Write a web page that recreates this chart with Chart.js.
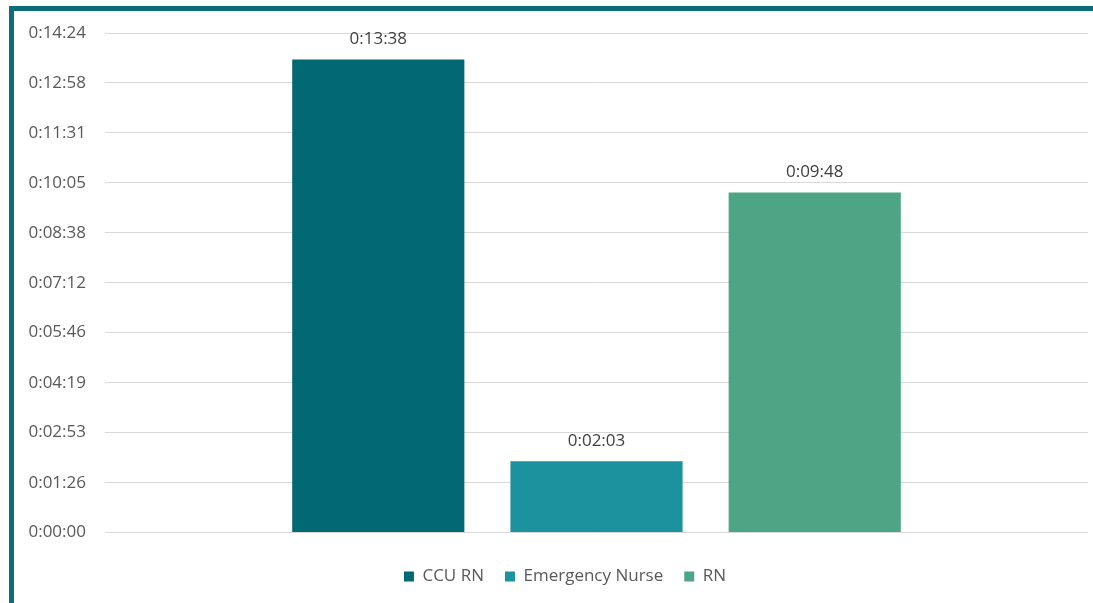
<!DOCTYPE html>
<html>
<head>
<meta charset="utf-8">
<script src="https://cdn.jsdelivr.net/npm/chart.js@4/dist/chart.umd.min.js"></script>
<style>
  html, body { margin: 0; padding: 0; background: #ffffff; overflow: hidden; }
  #wrap { position: relative; width: 1093px; height: 603px; overflow: hidden; }
  #frame { position: absolute; left: 9px; top: 6px; width: 1200px; height: 700px;
           border-left: 5px solid #0e6c77; border-top: 5px solid #0e6c77; box-sizing: border-box; }
  #box { position: absolute; left: 0; top: 0; width: 1130px; height: 603px; }
</style>
</head>
<body>
<div id="wrap">
  <div id="frame"></div>
  <div id="box"><canvas id="c"></canvas></div>
</div>
<script>
// ---- data (seconds) ----
const categories = [''];
const seriesNames = ['CCU RN', 'Emergency Nurse', 'RN'];
const ccuRn = [818];          // 0:13:38
const emergencyNurse = [123]; // 0:02:03
const rn = [588];             // 0:09:48
const seriesColors = ['#026873', '#1c929e', '#4ea585'];
const yTickLabels = ['0:00:00', '0:01:26', '0:02:53', '0:04:19', '0:05:46', '0:07:12',
                     '0:08:38', '0:10:05', '0:11:31', '0:12:58', '0:14:24'];

function toSec(s) {
  const p = s.split(':').map(Number);
  return p[0] * 3600 + p[1] * 60 + p[2];
}
function fmt(sec) {
  sec = Math.round(sec);
  const h = Math.floor(sec / 3600), m = Math.floor((sec % 3600) / 60), s = sec % 60;
  return h + ':' + String(m).padStart(2, '0') + ':' + String(s).padStart(2, '0');
}

const FONT = "'Open Sans', 'Liberation Sans', sans-serif";

const valueLabels = {
  id: 'valueLabels',
  afterDatasetsDraw(chart) {
    const ctx = chart.ctx;
    ctx.save();
    ctx.font = '17px ' + FONT;
    ctx.fillStyle = '#404040';
    ctx.textAlign = 'center';
    ctx.textBaseline = 'middle';
    chart.data.datasets.forEach((ds, di) => {
      const meta = chart.getDatasetMeta(di);
      meta.data.forEach((bar, i) => {
        ctx.fillText(fmt(ds.data[i]), bar.x, bar.y - 20);
      });
    });
    ctx.restore();
  }
};

const seriesData = [ccuRn, emergencyNurse, rn];

new Chart(document.getElementById('c'), {
  type: 'bar',
  data: {
    labels: categories,
    datasets: seriesNames.map((n, i) => ({
      label: n,
      data: seriesData[i],
      backgroundColor: seriesColors[i],
      borderWidth: 0,
      categoryPercentage: 0.666,
      barPercentage: 0.789
    }))
  },
  options: {
    responsive: true,
    maintainAspectRatio: false,
    animation: false,
    layout: { padding: { left: 0, right: 0, top: 33, bottom: 8 } },
    plugins: {
      legend: {
        position: 'bottom',
        labels: {
          boxWidth: 10, boxHeight: 10, padding: 21,
          color: '#595959',
          font: { family: FONT, size: 17 }
        }
      },
      tooltip: { enabled: false }
    },
    scales: {
      x: {
        grid: { display: false, drawTicks: false },
        border: { display: false },
        ticks: { display: false },
        afterFit(scale) { scale.height = 14.6; }
      },
      y: {
        min: 0,
        max: toSec(yTickLabels[yTickLabels.length - 1]),
        afterBuildTicks(scale) {
          scale.ticks = yTickLabels.map(t => ({ value: toSec(t) }));
        },
        ticks: {
          padding: 19,
          color: '#595959',
          font: { family: FONT, size: 17 },
          callback: (v, i) => yTickLabels[i]
        },
        grid: { color: '#d9d9d9', lineWidth: 1, drawTicks: false },
        border: { display: false },
        afterFit(scale) { scale.width = 105; }
      },
      spacer: {
        type: 'linear',
        position: 'right',
        display: true,
        ticks: { display: false },
        grid: { display: false, drawTicks: false },
        border: { display: false },
        afterFit(scale) { scale.width = 42; }
      }
    }
  },
  plugins: [valueLabels]
});
</script>
</body>
</html>
